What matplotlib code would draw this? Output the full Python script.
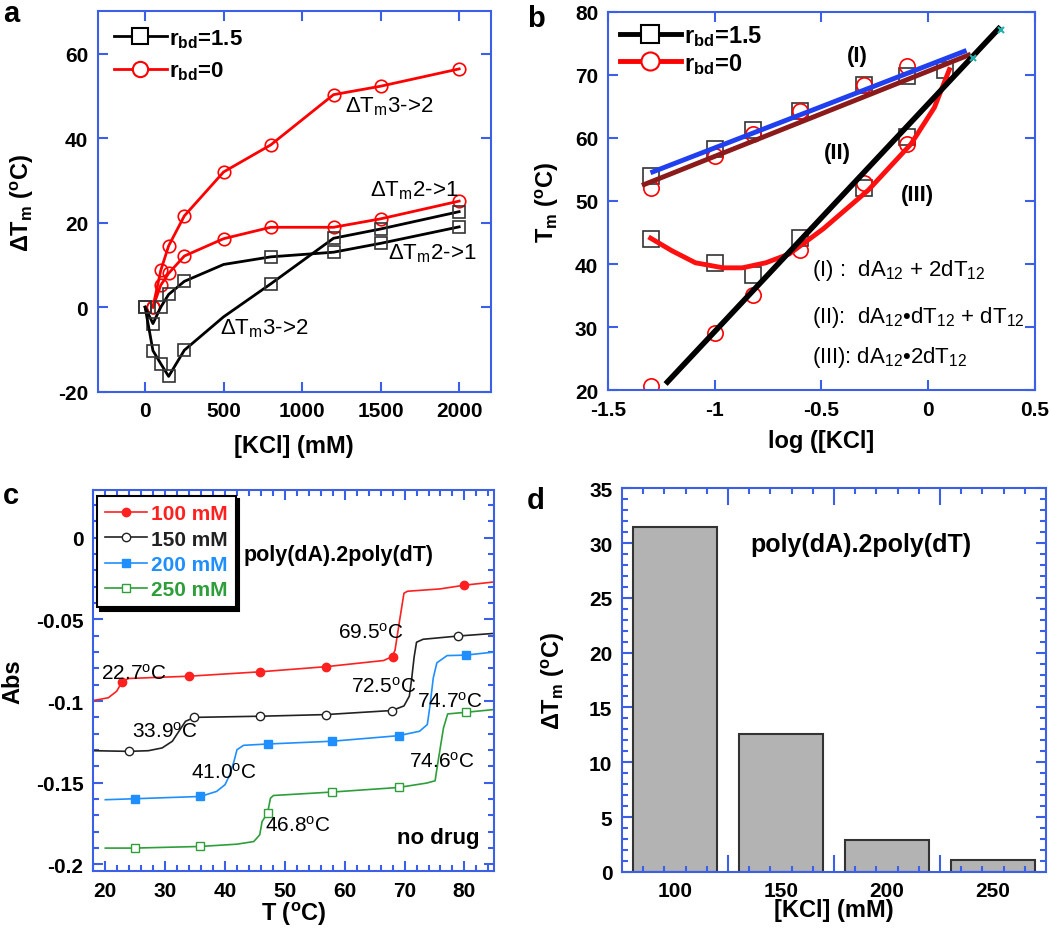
import numpy as np
import matplotlib
matplotlib.use("Agg")
import matplotlib.pyplot as plt
from matplotlib.lines import Line2D
from matplotlib.ticker import MultipleLocator, FixedLocator, FuncFormatter
import matplotlib.transforms as mtrans

plt.rcParams.update({
    'font.family': 'Liberation Sans',
    'font.weight': 'bold',
    'axes.labelweight': 'bold',
    'axes.unicode_minus': False,
    'mathtext.fontset': 'custom',
    'mathtext.rm': 'Liberation Sans',
    'mathtext.default': 'regular',
})

BLUE_AX = '#3b5fe6'

# ---- panel a: dTm vs [KCl] ----
kcl_red = [50, 100, 150, 250, 500, 800, 1200, 1500, 2000]
red_32 = [0, 8.7, 14.5, 21.6, 32.0, 38.4, 50.3, 52.3, 56.4]
red_21 = [0, 5.2, 8.0, 12.1, 16.2, 18.9, 18.9, 20.9, 25.1]
kcl_blk = [0, 50, 100, 150, 250, 500, 800, 1200, 1500, 2000]
blk_21 = [0, -3.9, 0, 3.0, 6.1, 10.1, 11.9, 13.0, 15.1, 19.0]
blk_32 = [0, -10.3, -13.4, -16.4, -10.2, -2.3, 5.5, 16.3, 18.5, 22.6]
blk_marked = [0, 1, 2, 3, 4, 6, 7, 8, 9]   # no symbol at 500 mM

# ---- panel b: Tm vs log[KCl] ----
logk = [-1.3, -1.0, -0.82, -0.6, -0.3, -0.1]
sq_up = [54.0, 58.2, 61.2, 64.3, 68.4, 69.8]
ci_up = [52.0, 57.1, 60.6, 64.3, 68.3, 71.3]
logk_lo = [-1.3, -1.0, -0.82, -0.6, -0.3, -0.1, 0.08]
sq_lo = [44.0, 40.1, 38.2, 44.2, 52.1, 60.1, 70.7]
ci_lo = [20.7, 29.1, 35.1, 42.3, 52.8, 59.0]
fit_blue_x = [-1.29, 0.17]
fit_blue_y = [54.6, 73.7]
fit_brown_x = [-1.33, 0.19]
fit_brown_y = [52.6, 73.1]
fit_black_x = [-1.23, 0.34]
fit_black_y = [21.0, 77.6]
curve_x = [-1.3, -1.2, -1.09, -0.96, -0.87, -0.76, -0.65, -0.49, -0.28, -0.08, 0.03, 0.1]
curve_y = [44.1, 42.1, 40.2, 39.4, 39.4, 40.2, 41.6, 45.6, 51.7, 59.0, 64.8, 70.8]
teal_x = [0.21, 0.34]
teal_y = [72.6, 77.0]

# ---- panel c: melting curves ----
t_100 = [18.0, 20.5, 21.9, 22.8, 23.9, 34.0, 45.9, 56.8, 66.5, 67.9, 68.4, 69.2, 69.9, 70.5, 75.9, 80.0, 85.0]
a_100 = [-0.0997, -0.098, -0.094, -0.0882, -0.0862, -0.0848, -0.0821, -0.079, -0.0752, -0.0729,
         -0.069, -0.050, -0.034, -0.0328, -0.0314, -0.0291, -0.0271]
t_100m = [22.8, 34.0, 45.9, 56.8, 68.0, 80.0]
a_100m = [-0.0882, -0.0848, -0.0821, -0.079, -0.0729, -0.0291]

t_150 = [18.0, 23.9, 27.2, 29.5, 31.2, 32.3, 33.4, 34.9, 45.9, 56.8, 67.9, 69.9, 70.8, 71.2, 71.6, 72.0, 73.1, 79.0, 85.0]
a_150 = [-0.1304, -0.1308, -0.1304, -0.1287, -0.1246, -0.1185, -0.1124, -0.110, -0.1093, -0.1083, -0.1058,
         -0.103, -0.097, -0.086, -0.073, -0.064, -0.0622, -0.0602, -0.0586]
t_150m = [23.9, 34.9, 45.9, 56.8, 67.9, 79.0]
a_150m = [-0.1308, -0.110, -0.1093, -0.1083, -0.1058, -0.0602]

t_200 = [20.0, 24.9, 35.9, 38.6, 40.0, 40.8, 41.5, 42.0, 43.1, 47.1, 57.9, 69.0, 72.5, 73.8, 74.2, 74.8, 75.4, 77.1, 80.2, 85.0]
a_200 = [-0.1604, -0.1598, -0.1584, -0.1553, -0.1512, -0.1451, -0.1369, -0.1298, -0.1271, -0.1263, -0.1246,
         -0.1212, -0.1185, -0.1144, -0.1042, -0.0858, -0.0766, -0.0722, -0.0719, -0.070]
t_200m = [24.9, 35.9, 47.1, 57.9, 69.0, 80.2]
a_200m = [-0.1598, -0.1584, -0.1263, -0.1246, -0.1212, -0.0719]

t_250 = [20.0, 24.9, 35.9, 42.0, 44.8, 45.8, 46.2, 47.1, 47.6, 48.1, 57.9, 69.0, 73.7, 75.1, 75.6, 76.5, 77.2, 80.2, 85.0]
a_250 = [-0.190, -0.190, -0.189, -0.1876, -0.186, -0.1819, -0.1737, -0.1686, -0.1594, -0.1578, -0.1557,
         -0.1529, -0.1502, -0.1488, -0.1369, -0.1165, -0.1079, -0.1069, -0.1052]
t_250m = [24.9, 35.9, 47.1, 57.9, 69.0, 80.2]
a_250m = [-0.190, -0.189, -0.1686, -0.1557, -0.1529, -0.1069]

tm_labels = ['22.7', '33.9', '41.0', '46.8', '69.5', '72.5', '74.7', '74.6']
tm_lab_x = [24.7, 30.0, 39.8, 52.2, 64.3, 66.5, 77.5, 76.2]
tm_lab_y = [-0.0824, -0.1182, -0.1433, -0.1757, -0.0576, -0.0906, -0.0998, -0.1365]

# ---- panel d: bars ----
salt = ['100', '150', '200', '250']
dtm = [31.5, 12.6, 2.9, 1.1]


def style(ax, size):
    for s in ax.spines.values():
        s.set_color(BLUE_AX)
        s.set_linewidth(1.5)
    ax.tick_params(which='both', direction='in', colors=BLUE_AX, labelcolor='black',
                   top=True, right=True, width=1.5, labelsize=size, pad=7)
    ax.tick_params(which='major', length=7)
    ax.tick_params(which='minor', length=4)


fmt = FuncFormatter(lambda v, p: '%g' % round(v, 3))

fig = plt.figure(figsize=(10.5, 9.29), dpi=100)

# ================= a =================
ax = fig.add_axes([0.0933, 0.5774, 0.3739, 0.4092])
ax.plot(kcl_red, red_32, color='red', lw=2, marker='o', ms=9, mfc='none', mec='red', mew=1.2)
ax.plot(kcl_red, red_21, color='red', lw=2, marker='o', ms=9, mfc='none', mec='red', mew=1.2)
ax.plot(kcl_blk, blk_21, color='black', lw=2, marker='s', ms=8.5, mfc='none', mec='#333333',
        mew=1.2, markevery=blk_marked)
ax.plot(kcl_blk, blk_32, color='black', lw=2, marker='s', ms=8.5, mfc='none', mec='#333333',
        mew=1.2, markevery=blk_marked)
ax.set_xlim(-300, 2200)
ax.set_ylim(-20, 70)
ax.xaxis.set_major_locator(MultipleLocator(500))
ax.yaxis.set_major_locator(FixedLocator([-20, 0, 20, 40, 60]))
style(ax, 15)
ax.set_xlabel('[KCl] (mM)', fontsize=17, labelpad=10)
ax.set_ylabel('ΔT$_m$ ($^o$C)', fontsize=17, labelpad=16)
ann = dict(fontsize=16, fontweight='normal', va='baseline')
ax.text(1275, 46.4, 'ΔT$_m$3->2', **ann)
ax.text(1432, 26.5, 'ΔT$_m$2->1', **ann)
ax.text(1544, 11.5, 'ΔT$_m$2->1', **ann)
ax.text(478, -6.3, 'ΔT$_m$3->2', **ann)
ha = [Line2D([], [], color='black', lw=2, marker='s', ms=11, mfc='white', mec='black', mew=1.5),
      Line2D([], [], color='red', lw=2, marker='o', ms=11, mfc='white', mec='red', mew=1.5)]
ax.legend(ha, ['r$_{bd}$=1.5', 'r$_{bd}$=0'], loc='upper left', frameon=False, fontsize=16,
          handlelength=2.4, handletextpad=0.1, labelspacing=0.45, borderaxespad=0.3)

# ================= b =================
ax = fig.add_axes([0.5790, 0.5788, 0.4064, 0.4077])
ax.plot(logk, sq_up, ls='none', marker='s', ms=11, mfc='none', mec='#333333', mew=1.2)
ax.plot(logk_lo, sq_lo, ls='none', marker='s', ms=11, mfc='none', mec='#333333', mew=1.2)
ax.plot(logk, ci_up, ls='none', marker='o', ms=11, mfc='none', mec='red', mew=1.2)
ax.plot(logk, ci_lo, ls='none', marker='o', ms=11, mfc='none', mec='red', mew=1.2)
ax.plot(fit_brown_x, fit_brown_y, color='#8b1a1a', lw=3.5)
ax.plot(fit_blue_x, fit_blue_y, color='#2040f0', lw=3.5)
ax.plot(curve_x, curve_y, color='#ff1010', lw=3.5)
ax.plot(fit_black_x, fit_black_y, color='black', lw=4, solid_capstyle='butt')
ax.plot(teal_x, teal_y, ls='none', marker='x', ms=5, color='#20b2aa', mew=1.5)
ax.set_xlim(-1.5, 0.5)
ax.set_ylim(20, 80)
ax.xaxis.set_major_locator(MultipleLocator(0.5))
ax.yaxis.set_major_locator(MultipleLocator(10))
ax.xaxis.set_major_formatter(fmt)
style(ax, 15)
ax.set_xlabel('log ([KCl]', fontsize=17, labelpad=7)
ax.set_ylabel('T$_m$ ($^o$C)', fontsize=17, labelpad=10)
bt = dict(fontsize=16, fontweight='bold', ha='center', va='center')
ax.text(-0.333, 73.1, '(I)', **bt)
ax.text(-0.423, 57.6, '(II)', **bt)
ax.text(-0.048, 51.0, '(III)', **bt)
bn = dict(fontsize=16, fontweight='normal', ha='left', va='center')
ax.text(-0.545, 39.2, '(I) :  dA$_{12}$ + 2dT$_{12}$', **bn)
ax.text(-0.545, 31.7, '(II):  dA$_{12}$•dT$_{12}$ + dT$_{12}$', **bn)
ax.text(-0.545, 25.3, '(III): dA$_{12}$•2dT$_{12}$', **bn)
hb = [Line2D([], [], color='black', lw=3.5, marker='s', ms=13, mfc='white', mec='black', mew=1.5),
      Line2D([], [], color='red', lw=3.5, marker='o', ms=13, mfc='white', mec='red', mew=1.5)]
ax.legend(hb, ['r$_{bd}$=1.5', 'r$_{bd}$=0'], loc='upper left', frameon=False, fontsize=17,
          handlelength=2.6, handletextpad=0.1, labelspacing=0.1, borderaxespad=0.1)

# ================= c =================
ax = fig.add_axes([0.0889, 0.0614, 0.3819, 0.4098])
cols = ['#ff2020', '#222222', '#1f8fff', '#2e9e3a']
ax.plot(t_100, a_100, color=cols[0], lw=1.2)
ax.plot(t_150, a_150, color=cols[1], lw=1.2)
ax.plot(t_200, a_200, color=cols[2], lw=1.2)
ax.plot(t_250, a_250, color=cols[3], lw=1.2)
ax.plot(t_100m, a_100m, ls='none', marker='o', ms=6, color=cols[0])
ax.plot(t_150m, a_150m, ls='none', marker='o', ms=6, mfc='white', mec=cols[1])
ax.plot(t_200m, a_200m, ls='none', marker='s', ms=6, color=cols[2])
ax.plot(t_250m, a_250m, ls='none', marker='s', ms=6, mfc='white', mec=cols[3])
ax.set_xlim(18, 85)
ax.set_ylim(-0.204, 0.029)
ax.xaxis.set_major_locator(MultipleLocator(10))
ax.xaxis.set_minor_locator(MultipleLocator(2))
ax.yaxis.set_major_locator(MultipleLocator(0.05))
ax.yaxis.set_minor_locator(MultipleLocator(0.01))
ax.yaxis.set_major_formatter(fmt)
style(ax, 15)
ax.set_xlabel('T ($^o$C)', fontsize=17, labelpad=0)
ax.set_ylabel('Abs', fontsize=17, labelpad=8)
for lab, x, y in zip(tm_labels, tm_lab_x, tm_lab_y):
    ax.text(x, y, lab + '$^o$C', fontsize=15, fontweight='normal', ha='center', va='center')
ax.text(59.0, -0.0105, 'poly(dA).2poly(dT)', fontsize=15.5, ha='center', va='center')
ax.text(75.7, -0.1837, 'no drug', fontsize=16, ha='center', va='center')
hc = [Line2D([], [], color=cols[0], lw=1.2, marker='o', ms=6),
      Line2D([], [], color=cols[1], lw=1.2, marker='o', ms=6, mfc='white'),
      Line2D([], [], color=cols[2], lw=1.2, marker='s', ms=6),
      Line2D([], [], color=cols[3], lw=1.2, marker='s', ms=6, mfc='white')]
leg = ax.legend(hc, [s + ' mM' for s in ['100', '150', '200', '250']], loc='upper left',
                bbox_to_anchor=(0.008, 0.985), fontsize=15, fancybox=False, framealpha=1,
                edgecolor='black', shadow={'color': 'black', 'alpha': 1, 'ox': 2.5, 'oy': -2.5},
                handlelength=2.0, handletextpad=0.2, labelspacing=0.3, borderpad=0.4,
                borderaxespad=0)
leg.get_frame().set_linewidth(1.5)
for t, c in zip(leg.get_texts(), cols):
    t.set_color(c)

# ================= d =================
ax = fig.add_axes([0.5924, 0.0605, 0.4038, 0.4128])
pos = np.arange(1, len(salt) + 1)
ax.bar(pos, dtm, width=0.8, color='#b3b3b3', edgecolor='#333333', lw=1.5)
ax.set_xlim(0.5, 4.5)
ax.set_ylim(0, 35)
ax.xaxis.set_major_locator(FixedLocator(pos[:-1] + 0.5))
ax.xaxis.set_minor_locator(FixedLocator(np.concatenate([p + np.array([-0.3, -0.1, 0.1, 0.3]) for p in pos])))
ax.xaxis.set_major_formatter(FuncFormatter(lambda v, p: ''))
ax.yaxis.set_major_locator(MultipleLocator(5))
ax.yaxis.set_minor_locator(MultipleLocator(1))
style(ax, 15)
ax.tick_params(axis='x', which='major', length=12)
tr = mtrans.blended_transform_factory(ax.transData, ax.transAxes)
for p, s in zip(pos, salt):
    ax.text(p, -0.025, s, transform=tr, ha='center', va='top', fontsize=15)
ax.set_xlabel('[KCl] (mM)', fontsize=17, labelpad=12)
ax.set_ylabel('ΔT$_m$ ($^o$C)', fontsize=17, labelpad=16)
ax.text(2.75, 29.9, 'poly(dA).2poly(dT)', fontsize=18, ha='center', va='center')

# panel letters
for lx, ly, l in [(3, 22, 'a'), (527, 27, 'b'), (3, 504, 'c'), (527, 509, 'd')]:
    fig.text(lx / 1050, 1 - ly / 929, l, fontsize=21, fontweight='bold', va='baseline')

fig.savefig('out.png', dpi=100)
